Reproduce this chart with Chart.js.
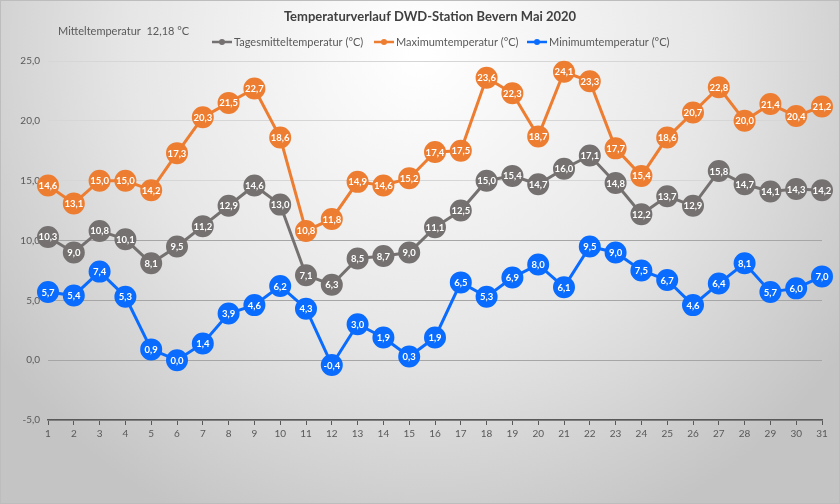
<!DOCTYPE html>
<html>
<head>
<meta charset="utf-8">
<script src="https://cdn.jsdelivr.net/npm/chart.js@4.4.0/dist/chart.umd.min.js"></script>
<style>
  html, body { margin: 0; padding: 0; background: #fff; }
  canvas { display: block; }
</style>
</head>
<body>
<canvas id="tempChart" width="840" height="504"></canvas>
<script>
// Temperaturverlauf DWD-Station Bevern, Mai 2020
const days = Array.from({ length: 31 }, (_, i) => String(i + 1));
const tagesmittel = [10.3, 9.0, 10.8, 10.1, 8.1, 9.5, 11.2, 12.9, 14.6, 13.0, 7.1, 6.3, 8.5, 8.7, 9.0, 11.1, 12.5, 15.0, 15.4, 14.7, 16.0, 17.1, 14.8, 12.2, 13.7, 12.9, 15.8, 14.7, 14.1, 14.3, 14.2];
const maximum = [14.6, 13.1, 15.0, 15.0, 14.2, 17.3, 20.3, 21.5, 22.7, 18.6, 10.8, 11.8, 14.9, 14.6, 15.2, 17.4, 17.5, 23.6, 22.3, 18.7, 24.1, 23.3, 17.7, 15.4, 18.6, 20.7, 22.8, 20.0, 21.4, 20.4, 21.2];
const minimum = [5.7, 5.4, 7.4, 5.3, 0.9, 0.0, 1.4, 3.9, 4.6, 6.2, 4.3, -0.4, 3.0, 1.9, 0.3, 1.9, 6.5, 5.3, 6.9, 8.0, 6.1, 9.5, 9.0, 7.5, 6.7, 4.6, 6.4, 8.1, 5.7, 6.0, 7.0];
const seriesNames = ['Tagesmitteltemperatur (°C)', 'Maximumtemperatur (°C)', 'Minimumtemperatur (°C)'];
const seriesColors = ['#767171', '#ED7D31', '#0A6CFF'];
const chartTitle = 'Temperaturverlauf DWD-Station Bevern Mai 2020';
const subTitle = 'Mitteltemperatur  12,18 °C';

const fmt = v => v.toFixed(1).replace('.', ',');
const FONT = 'Lato, "Open Sans", sans-serif';

// Hintergrund, Titel, Legende
const decorPlugin = {
  id: 'decor',
  beforeDraw(chart) {
    const { ctx, width, height } = chart;
    ctx.save();
    const g = ctx.createRadialGradient(width * 0.5, height * 0.1, 10, width * 0.5, height * 0.1, width * 0.62);
    g.addColorStop(0, '#ffffff');
    g.addColorStop(0.55, '#e6e6e6');
    g.addColorStop(1, '#c4c4c4');
    ctx.fillStyle = g;
    ctx.fillRect(0, 0, width, height);
    ctx.strokeStyle = '#bdbdbd';
    ctx.lineWidth = 1;
    ctx.strokeRect(0.5, 0.5, width - 1, height - 1);

    ctx.fillStyle = '#404040';
    ctx.font = 'bold 13px ' + FONT;
    ctx.textAlign = 'center';
    ctx.textBaseline = 'middle';
    ctx.fillText(chartTitle, 430, 17);

    ctx.fillStyle = '#595959';
    ctx.font = '11px ' + FONT;
    ctx.textAlign = 'left';
    ctx.fillText(subTitle, 58, 31);

    // Legende
    const legendX = [212, 374, 527];
    ctx.font = '11px ' + FONT;
    seriesNames.forEach((name, i) => {
      const x = legendX[i];
      const y = 42;
      ctx.strokeStyle = seriesColors[i];
      ctx.lineWidth = 2.5;
      ctx.beginPath();
      ctx.moveTo(x, y);
      ctx.lineTo(x + 20, y);
      ctx.stroke();
      ctx.fillStyle = seriesColors[i];
      ctx.beginPath();
      ctx.arc(x + 10, y, 3, 0, Math.PI * 2);
      ctx.fill();
      ctx.fillStyle = '#595959';
      ctx.fillText(name, x + 22, y);
    });
    ctx.restore();
  },
  afterDatasetsDraw(chart) {
    const { ctx } = chart;
    ctx.save();
    ctx.font = 'bold 9.5px ' + FONT;
    ctx.fillStyle = '#ffffff';
    ctx.textAlign = 'center';
    ctx.textBaseline = 'middle';
    chart.data.datasets.forEach((ds, di) => {
      const meta = chart.getDatasetMeta(di);
      meta.data.forEach((pt, i) => {
        ctx.fillText(fmt(ds.data[i]), pt.x, pt.y + 0.5);
      });
    });
    ctx.restore();
  }
};

const makeSet = (label, data, color) => ({
  label,
  data,
  borderColor: color,
  backgroundColor: color,
  pointBackgroundColor: color,
  pointBorderColor: color,
  borderWidth: 3,
  pointRadius: 9.5,
  pointHoverRadius: 9.5,
  tension: 0,
  clip: false
});

new Chart(document.getElementById('tempChart'), {
  type: 'line',
  data: {
    labels: days,
    datasets: [
      makeSet(seriesNames[0], tagesmittel, seriesColors[0]),
      makeSet(seriesNames[1], maximum, seriesColors[1]),
      makeSet(seriesNames[2], minimum, seriesColors[2])
    ]
  },
  options: {
    responsive: false,
    animation: false,
    layout: { padding: { top: 61, right: 18, left: 0, bottom: 0 } },
    plugins: {
      legend: { display: false },
      title: { display: false },
      tooltip: { enabled: false }
    },
    scales: {
      x: {
        type: 'category',
        offset: false,
        grid: { drawOnChartArea: false, color: '#595959', tickLength: 5, lineWidth: 1 },
        border: { color: '#595959', width: 1.5 },
        ticks: { color: '#595959', font: { family: FONT, size: 10 }, padding: 3, maxRotation: 0, autoSkip: false },
        afterFit: scale => { scale.height = 84; }
      },
      y: {
        min: -5,
        max: 25,
        ticks: {
          stepSize: 5,
          color: '#595959',
          font: { family: FONT, size: 10 },
          padding: 8,
          callback: v => fmt(v)
        },
        grid: { color: ctx => (ctx.tick && ctx.tick.value > 10 ? '#d6d6d6' : '#a6a6a6'), drawTicks: false, lineWidth: 1 },
        border: { display: false },
        afterFit: scale => { scale.width = 48; }
      }
    }
  },
  plugins: [decorPlugin]
});
</script>
</body>
</html>
